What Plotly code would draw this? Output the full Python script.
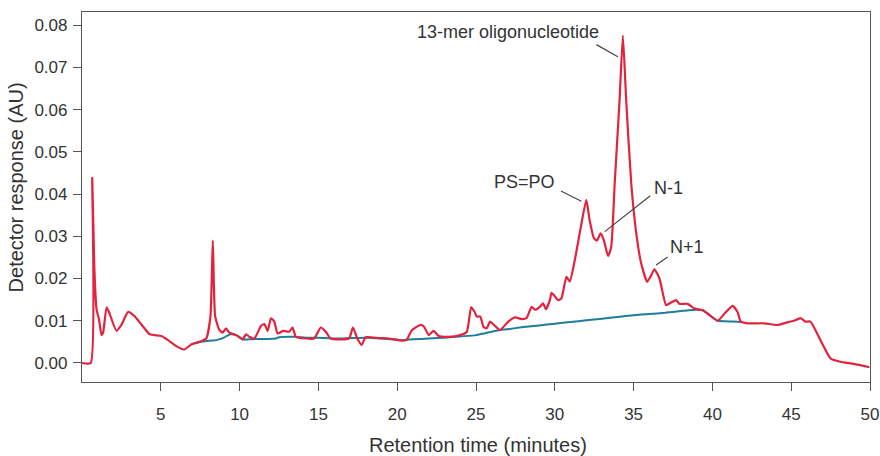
import plotly.graph_objects as go

# Sample chromatogram (red) and blank/baseline trace (blue)
sample_time = [
    0.0, 0.55, 0.65, 0.78, 0.93, 1.07, 1.24, 1.34, 1.56, 1.7, 2.19, 2.5, 2.93, 3.35,
    3.88, 4.3, 5.04, 5.46, 5.98, 6.5, 6.93, 7.46, 7.88, 8.15, 8.3, 8.45, 8.72, 8.93,
    9.14, 9.35, 9.78, 10.2, 10.41, 10.62, 10.94, 11.36, 11.57, 11.78, 11.99, 12.2,
    12.41, 12.77, 13.15, 13.36, 13.57, 14.2, 14.73, 15.15, 15.47, 15.78, 16.94, 17.19,
    17.47, 17.74, 18.0, 18.84, 19.47, 20.31, 20.6, 20.94, 21.47, 21.68, 22.0, 22.31,
    22.63, 23.26, 24.0, 24.42, 24.69, 24.9, 25.05, 25.27, 25.47, 25.68, 25.89, 26.2,
    26.52, 27.05, 27.47, 27.9, 28.2, 28.53, 28.74, 29.05, 29.26, 29.43, 29.69, 29.79,
    29.96, 30.21, 30.42, 30.74, 30.95, 31.27, 31.58, 32.0, 32.21, 32.49, 32.68, 32.9,
    33.11, 33.38, 33.58, 33.8, 34.11, 34.32, 34.53, 34.85, 35.17, 35.48, 35.86, 36.08,
    36.32, 36.64, 37.06, 37.27, 37.7, 37.9, 38.43, 38.86, 39.38, 39.8, 40.33, 40.75,
    41.28, 41.6, 41.8, 42.23, 43.28, 44.12, 44.64, 45.17, 45.6, 45.91, 46.22, 46.86,
    47.49, 48.12, 48.97, 49.96,
]
sample_au = [
    0.0, 0.0, 0.0438, 0.0227, 0.0125, 0.0105, 0.0066, 0.0072, 0.0132, 0.0122, 0.0076,
    0.009, 0.0121, 0.011, 0.0086, 0.0068, 0.0064, 0.0054, 0.004, 0.0032, 0.0044, 0.005,
    0.0058, 0.011, 0.029, 0.011, 0.0078, 0.0072, 0.0082, 0.0072, 0.0066, 0.0056, 0.0068,
    0.0062, 0.0058, 0.0088, 0.0092, 0.0076, 0.0106, 0.0098, 0.007, 0.0076, 0.0074,
    0.0084, 0.0062, 0.0058, 0.0058, 0.0084, 0.0074, 0.0058, 0.0058, 0.0084, 0.0058,
    0.0043, 0.0061, 0.0059, 0.0058, 0.0053, 0.0055, 0.0078, 0.009, 0.0087, 0.0066,
    0.0076, 0.0064, 0.0062, 0.0066, 0.0074, 0.0132, 0.0122, 0.011, 0.011, 0.0086,
    0.0082, 0.0098, 0.0088, 0.0078, 0.0098, 0.0108, 0.0104, 0.0106, 0.0133, 0.0126,
    0.0133, 0.0141, 0.0127, 0.0149, 0.0166, 0.016, 0.0149, 0.0153, 0.0204, 0.0193,
    0.0244, 0.0307, 0.0386, 0.0338, 0.0295, 0.029, 0.0307, 0.0291, 0.0253, 0.0275,
    0.0425, 0.0622, 0.0775, 0.0622, 0.0425, 0.0307, 0.0236, 0.0192, 0.0205, 0.0222,
    0.02, 0.0137, 0.0141, 0.0149, 0.014, 0.014, 0.0129, 0.0125, 0.0114, 0.01, 0.0116,
    0.0135, 0.012, 0.0098, 0.0094, 0.0094, 0.009, 0.0095, 0.01, 0.0106, 0.0098, 0.0098,
    0.0054, 0.0011, 0.0003, -0.0002, -0.001,
]

baseline_time = [
    7.3, 7.9, 8.3, 8.7, 9.0, 9.4, 9.8, 10.2, 10.6, 11.2, 11.8, 12.3, 12.5, 13.5, 14.2,
    15.0, 16.0, 17.0, 18.0, 19.0, 20.3, 21.0, 22.0, 23.0, 24.0, 25.0, 25.5, 26.0, 26.5,
    27.0, 28.0, 29.0, 30.0, 31.0, 32.0, 33.0, 34.0, 35.0, 36.0, 37.0, 37.5, 38.0, 38.5,
    39.0, 39.4, 39.8, 40.33, 40.8, 41.3, 41.8,
]
baseline_au = [
    0.0049, 0.0052, 0.0053, 0.0056, 0.006, 0.0068, 0.0066, 0.0056, 0.0056, 0.0057,
    0.0057, 0.0058, 0.0061, 0.0062, 0.006, 0.006, 0.0058, 0.0059, 0.006, 0.0058, 0.0054,
    0.0056, 0.0058, 0.006, 0.0063, 0.0066, 0.007, 0.0074, 0.0078, 0.008, 0.0085, 0.0089,
    0.0093, 0.0097, 0.0101, 0.0105, 0.0109, 0.0113, 0.0116, 0.0119, 0.0121, 0.0123,
    0.0125, 0.0126, 0.0125, 0.0114, 0.01, 0.0099, 0.0098, 0.0097,
]

x_ticks = [5, 10, 15, 20, 25, 30, 35, 40, 45, 50]
y_ticks = [0.0, 0.01, 0.02, 0.03, 0.04, 0.05, 0.06, 0.07, 0.08]

# Peak labels: text, leader head (time, AU), leader tail offset (px), text offset (px)
peak_labels = [
    ("13-mer oligonucleotide", 34.0, 0.0725, (-23, -13), (-110, 25)),
    ("PS=PO", 31.69, 0.0383, (-22, -11), (-57, 19)),
    ("N-1", 33.17, 0.0311, (47, -37), (64, 44)),
    ("N+1", 36.43, 0.0232, (13, -9), (31, 18)),
]

FONT = "Liberation Sans, Arial, sans-serif"
TEXT = "#333333"
AXIS = "#555555"

fig = go.Figure()
fig.add_trace(go.Scatter(x=baseline_time, y=baseline_au, mode="lines",
                         line=dict(color="#1f7d9c", width=2, shape="spline",
                                   smoothing=0.5),
                         hoverinfo="skip"))
fig.add_trace(go.Scatter(x=sample_time, y=sample_au, mode="lines",
                         line=dict(color="#e2233d", width=2.2, shape="spline",
                                   smoothing=0.5),
                         hoverinfo="skip"))

for text, t, v, (ax, ay), (dx, dy) in peak_labels:
    fig.add_annotation(x=t, y=v, ax=ax, ay=ay, text="", showarrow=True,
                       arrowhead=0, arrowwidth=1.2, arrowcolor="#444444",
                       standoff=0, startstandoff=0)
    fig.add_annotation(x=t, y=v, text=text, showarrow=False, xshift=dx, yshift=dy,
                       font=dict(family=FONT, size=18, color=TEXT))

# Axis titles
fig.add_annotation(xref="paper", yref="paper", x=-0.0837, y=0.526,
                   text="Detector response (AU)", textangle=-90, showarrow=False,
                   xanchor="center", yanchor="middle",
                   font=dict(family=FONT, size=20, color=TEXT))
fig.add_annotation(xref="paper", yref="paper", x=0.503, y=-0.17,
                   text="Retention time (minutes)", showarrow=False,
                   xanchor="center", yanchor="middle",
                   font=dict(family=FONT, size=20, color=TEXT))

axis_common = dict(showgrid=False, zeroline=False, showline=True, linecolor=AXIS,
                   linewidth=1.2, mirror=True, ticks="outside", ticklen=8,
                   tickcolor=AXIS, tickwidth=1.2, ticklabeloverflow="allow",
                   automargin=False,
                   tickfont=dict(family=FONT, size=17, color=TEXT))

fig.update_layout(
    width=880, height=456,
    margin=dict(l=82, r=10, t=12, b=74),
    paper_bgcolor="white", plot_bgcolor="white",
    showlegend=False,
    xaxis=dict(range=[0, 50], tickvals=x_ticks, ticklabelstandoff=8, **axis_common),
    yaxis=dict(range=[-0.0045, 0.0831], tickvals=y_ticks, tickformat=".2f",
               ticklabelstandoff=2, **axis_common),
)

fig.write_html("out.html")
